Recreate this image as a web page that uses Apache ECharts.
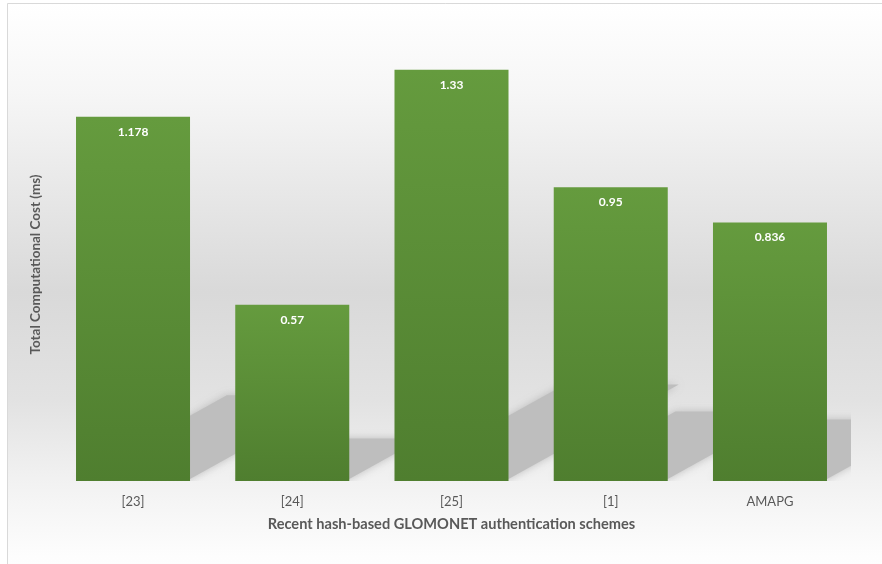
<!DOCTYPE html>
<html>
<head>
<meta charset="utf-8">
<script src="https://cdn.jsdelivr.net/npm/echarts@6/dist/echarts.min.js"></script>
<style>
html,body{margin:0;padding:0;background:#ffffff;}
#chart{width:882px;height:564px;}
</style>
</head>
<body>
<div id="chart"></div>
<script>
var categories = ['[23]', '[24]', '[25]', '[1]', 'AMAPG'];
var costs = [1.178, 0.57, 1.33, 0.95, 0.836];
var xTitle = 'Recent hash-based GLOMONET authentication schemes';
var yTitle = 'Total Computational Cost (ms)';

var chart = echarts.init(document.getElementById('chart'));
var BAR_RATIO = 114 / 159.2;

var option = {
  animation: false,
  backgroundColor: 'transparent',
  textStyle: { fontFamily: 'Lato, "Open Sans", sans-serif' },
  graphic: [{
    type: 'rect',
    z: -10,
    silent: true,
    shape: { x: 7.5, y: 3.5, width: 900, height: 600 },
    style: {
      stroke: '#d9d9d9',
      lineWidth: 1,
      fill: new echarts.graphic.LinearGradient(0, 0, 0, 1, [
        { offset: 0, color: '#ffffff' },
        { offset: 0.15, color: '#f6f6f6' },
        { offset: 0.48, color: '#d9d9d9' },
        { offset: 0.66, color: '#e2e2e2' },
        { offset: 0.8, color: '#f2f2f2' },
        { offset: 0.92, color: '#fdfdfd' },
        { offset: 1, color: '#ffffff' }
      ])
    }
  }],
  grid: { left: 53.4, right: 32.4, top: 48, bottom: 83, containLabel: false },
  xAxis: {
    type: 'category',
    data: categories,
    name: xTitle,
    nameLocation: 'middle',
    nameGap: 36,
    nameTextStyle: { fontSize: 14.6, fontWeight: 'bold', color: '#595959', fontFamily: 'Lato, sans-serif' },
    axisLine: { show: false },
    axisTick: { show: false },
    axisLabel: { fontSize: 13, color: '#595959', margin: 14, fontFamily: 'Lato, sans-serif' }
  },
  yAxis: {
    type: 'value',
    min: 0,
    max: 1.4,
    name: yTitle,
    nameLocation: 'middle',
    nameGap: 11,
    nameRotate: 90,
    nameTextStyle: { fontSize: 13.5, fontWeight: 'bold', color: '#595959', fontFamily: 'Lato, sans-serif' },
    axisLine: { show: false },
    axisTick: { show: false },
    axisLabel: { show: false },
    splitLine: { show: false }
  },
  series: [{
    type: 'custom',
    z: 1,
    clip: true,
    silent: true,
    data: costs.map(function (v, i) { return [i, v]; }),
    renderItem: function (params, api) {
      var idx = api.value(0);
      var top = api.coord([idx, api.value(1)]);
      var base = api.coord([idx, 0]);
      var bw = api.size([1, 0])[0] * BAR_RATIO;
      var L = base[0] - bw / 2, R = base[0] + bw / 2;
      var h = base[1] - top[1];
      var sh = 0.23 * h;
      var dx = 1.8 * sh;
      var b = base[1] - 2;
      return {
        type: 'polygon',
        shape: { points: [[L, b], [R, b], [R + dx, b - sh], [L + dx, b - sh]] },
        style: {
          fill: '#bebebe',
          shadowBlur: 8,
          shadowColor: 'rgba(170,170,170,0.7)'
        }
      };
    }
  }, {
    type: 'bar',
    z: 5,
    data: costs,
    barCategoryGap: '28.4%',
    itemStyle: {
      color: new echarts.graphic.LinearGradient(0, 0, 0, 1, [
        { offset: 0, color: '#659b3e' },
        { offset: 1, color: '#4f7e2f' }
      ])
    },
    label: {
      show: true,
      position: 'insideTop',
      distance: 9,
      color: '#ffffff',
      fontSize: 12,
      fontWeight: 'bold',
      fontFamily: 'Lato, sans-serif'
    }
  }]
};
chart.setOption(option);
</script>
</body>
</html>
